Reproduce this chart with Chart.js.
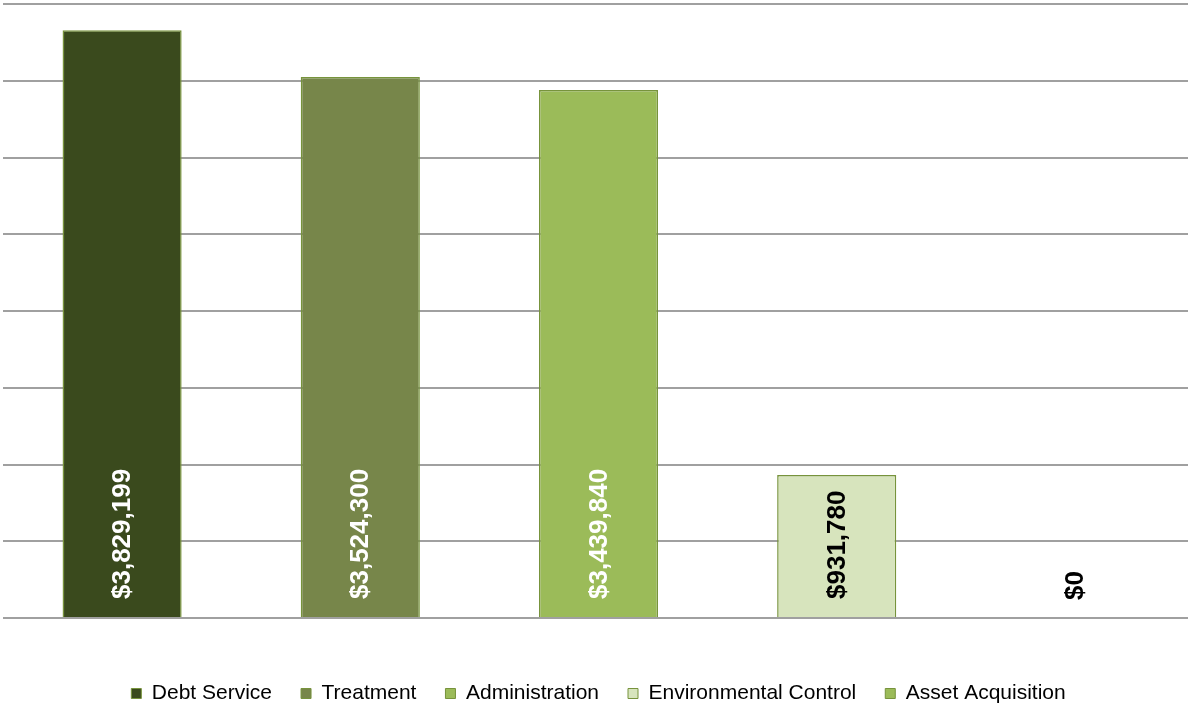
<!DOCTYPE html>
<html>
<head>
<meta charset="utf-8">
<script src="https://cdn.jsdelivr.net/npm/chart.js@4/dist/chart.umd.min.js"></script>
<style>
  html, body { margin: 0; padding: 0; background: #ffffff; overflow: hidden; }
  #wrap { width: 1188px; height: 706px; position: relative; overflow: hidden; }
  #c { position: absolute; left: 0; top: 0; }
</style>
</head>
<body>
<div id="wrap"><canvas id="c" width="1194" height="706"></canvas></div>
<script>
const categories = ["Debt Service", "Treatment", "Administration", "Environmental Control", "Asset Acquisition"];
const values = [3829199, 3524300, 3439840, 931780, 0];
const yMin = 0;
const yMax = 4000000;
const yStep = 500000;

const barColors = ["#3a4a1d", "#77864a", "#9bbb59", "#d7e4bd", "#9bbb59"];
const barBorders = ["#77933c", "#77933c", "#77933c", "#77933c", "#77933c"];
const labelColors = ["#ffffff", "#ffffff", "#ffffff", "#000000", "#000000"];

const fmt = v => "$" + v.toLocaleString("en-US");

const valueLabels = {
  id: "valueLabels",
  afterDatasetsDraw(chart) {
    const ctx = chart.ctx;
    const meta = chart.getDatasetMeta(0);
    ctx.save();
    ctx.font = "bold 26px 'Liberation Sans', Arial, sans-serif";
    ctx.textAlign = "left";
    ctx.textBaseline = "middle";
    meta.data.forEach((bar, i) => {
      const x = bar.x;
      const y = bar.base - 18;
      ctx.save();
      ctx.translate(x, y);
      ctx.rotate(-Math.PI / 2);
      ctx.fillStyle = labelColors[i];
      ctx.fillText(fmt(values[i]), 0, 1);
      ctx.restore();
    });
    ctx.restore();
  }
};

new Chart(document.getElementById("c"), {
  type: "bar",
  data: {
    labels: categories,
    datasets: [{
      label: "Amount",
      data: values,
      backgroundColor: barColors,
      borderColor: barBorders,
      borderWidth: 1.5,
      categoryPercentage: 1.0,
      barPercentage: 0.5
    }]
  },
  options: {
    responsive: false,
    animation: false,
    devicePixelRatio: 1,
    layout: { padding: { left: 3, right: 0, top: 4, bottom: -8 } },
    scales: {
      x: {
        grid: { display: false },
        border: { display: false },
        ticks: { display: false },
        afterFit(scale) { scale.height = 36; }
      },
      y: {
        min: yMin,
        max: yMax,
        ticks: { display: false, stepSize: yStep },
        grid: { color: "#a0a0a0", lineWidth: 2, drawTicks: false },
        border: { display: false }
      }
    },
    plugins: {
      tooltip: { enabled: false },
      legend: {
        position: "bottom",
        labels: {
          font: { family: "'Liberation Sans', Arial, sans-serif", size: 21 },
          color: "#000000",
          boxWidth: 10,
          boxHeight: 10,
          padding: 29,
          generateLabels(chart) {
            return categories.map((c, i) => ({
              text: c,
              fillStyle: barColors[i],
              strokeStyle: barBorders[i],
              lineWidth: 1,
              hidden: false,
              index: i,
              datasetIndex: 0
            }));
          }
        }
      }
    }
  },
  plugins: [valueLabels]
});
</script>
</body>
</html>
